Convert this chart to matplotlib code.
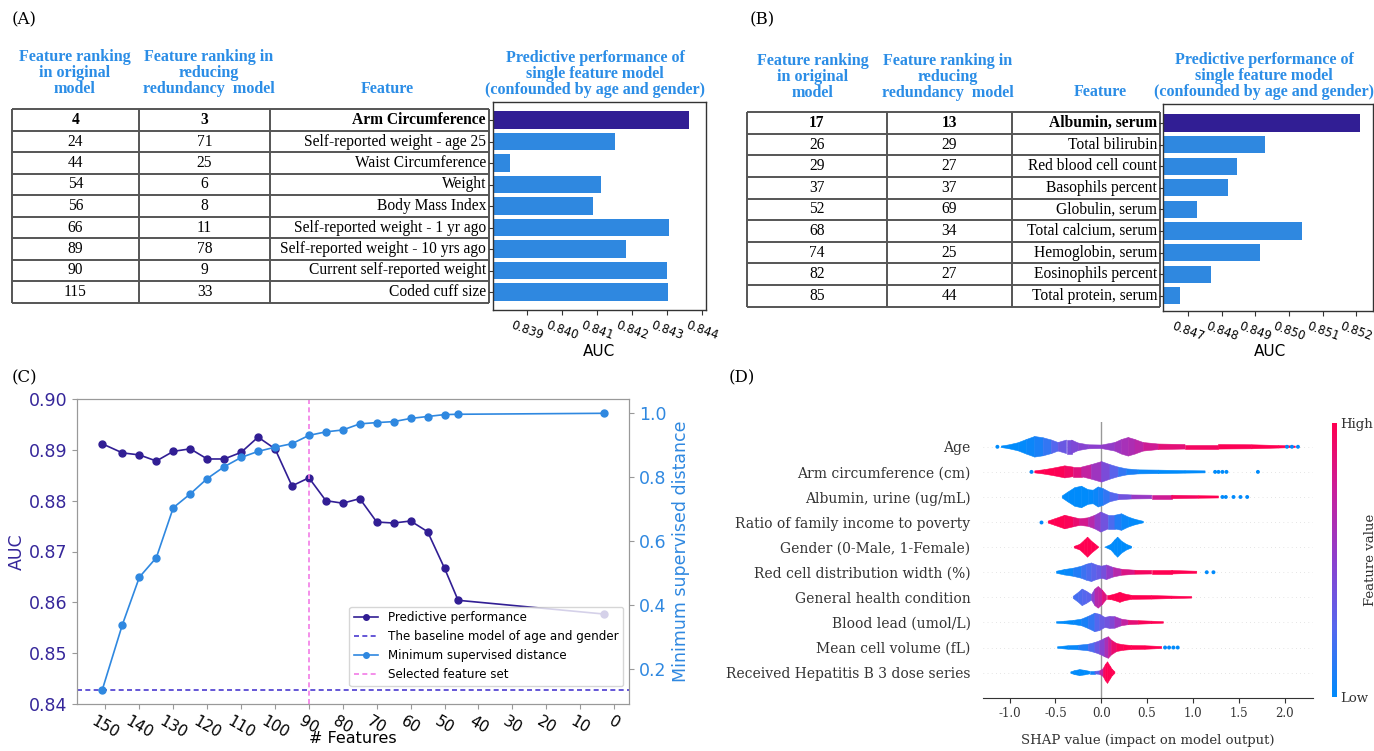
import matplotlib
matplotlib.use('Agg')
import matplotlib.pyplot as plt
import numpy as np
from matplotlib.colors import LinearSegmentedColormap
from matplotlib.patches import Polygon
from matplotlib.cm import ScalarMappable
from matplotlib.colors import Normalize

# ---------------- data ----------------
# Panel A
headers_A = [['Feature ranking', 'in original', 'model'],
             ['Feature ranking in', 'reducing', 'redundancy  model'],
             ['Feature'],
             ['Predictive performance of', 'single feature model', '(confounded by age and gender)']]
rank_orig_A = [4, 24, 44, 54, 56, 66, 89, 90, 115]
rank_red_A = [3, 71, 25, 6, 8, 11, 78, 9, 33]
features_A = ['Arm Circumference', 'Self-reported weight - age 25', 'Waist Circumference',
              'Weight', 'Body Mass Index', 'Self-reported weight - 1 yr ago',
              'Self-reported weight - 10 yrs ago', 'Current self-reported weight', 'Coded cuff size']
auc_A = [0.84362, 0.84151, 0.83852, 0.84110, 0.84087, 0.84304, 0.84181, 0.84298, 0.84302]
ticks_A = [0.839, 0.840, 0.841, 0.842, 0.843, 0.844]

# Panel B
headers_B = headers_A
rank_orig_B = [17, 26, 29, 37, 52, 68, 74, 82, 85]
rank_red_B = [13, 29, 27, 37, 69, 34, 25, 27, 44]
features_B = ['Albumin, serum', 'Total bilirubin', 'Red blood cell count', 'Basophils percent',
              'Globulin, serum', 'Total calcium, serum', 'Hemoglobin, serum',
              'Eosinophils percent', 'Total protein, serum']
auc_B = [0.85209, 0.84930, 0.84845, 0.84818, 0.84727, 0.85039, 0.84914, 0.84769, 0.84676]
ticks_B = [0.847, 0.848, 0.849, 0.850, 0.851, 0.852]

# Panel C
n_feat = [151, 145, 140, 135, 130, 125, 120, 115, 110, 105, 100, 95, 90, 85, 80, 75,
          70, 65, 60, 55, 50, 46, 3]
auc_perf = [0.8912, 0.8894, 0.8890, 0.8878, 0.8897, 0.8902, 0.8882, 0.8882, 0.8895, 0.8925,
            0.8902, 0.8829, 0.8845, 0.8800, 0.8795, 0.8804, 0.8758, 0.8756, 0.8760, 0.8739,
            0.8667, 0.8604, 0.8577]
min_dist = [0.134, 0.340, 0.488, 0.549, 0.705, 0.748, 0.796, 0.833, 0.862, 0.881,
            0.894, 0.905, 0.931, 0.942, 0.948, 0.967, 0.971, 0.974, 0.984, 0.990,
            0.996, 0.997, 1.000]
baseline_auc = 0.8427
selected_n = 90
xticks_C = list(range(0, 151, 10))
yticks_C = [0.84, 0.85, 0.86, 0.87, 0.88, 0.89, 0.90]
yticks_C2 = [0.2, 0.4, 0.6, 0.8, 1.0]

shap_features = ['Age', 'Arm circumference (cm)', 'Albumin, urine (ug/mL)',
                 'Ratio of family income to poverty', 'Gender (0-Male, 1-Female)',
                 'Red cell distribution width (%)', 'General health condition',
                 'Blood lead (umol/L)', 'Mean cell volume (fL)',
                 'Received Hepatitis B 3 dose series']
shap_x = [
    [-1.09, -1.016, -0.907, -0.816, -0.725, -0.634, -0.543, -0.470, -0.379, -0.324, -0.251, -0.142,
     0.004, 0.149, 0.222, 0.295, 0.368, 0.459, 0.623, 0.914, 1.279, 1.643, 1.935, 2.117],
    [-0.725, -0.616, -0.506, -0.397, -0.306, -0.215, -0.106, 0.004, 0.095, 0.186, 0.277, 0.404,
     0.623, 0.914, 1.133],
    [-0.426, -0.361, -0.288, -0.215, -0.142, -0.087, -0.033, 0.022, 0.095, 0.186, 0.332, 0.55,
     0.769, 1.06, 1.279],
    [-0.579, -0.506, -0.397, -0.306, -0.233, -0.142, -0.069, -0.004, 0.077, 0.149, 0.222, 0.295,
     0.368, 0.459],
    [-0.295, -0.233, -0.179, -0.149, -0.106, -0.062, -0.026, 0.040, 0.106, 0.149, 0.179, 0.222,
     0.277, 0.332],
    [-0.488, -0.397, -0.306, -0.215, -0.160, -0.106, -0.051, 0.004, 0.058, 0.131, 0.222, 0.368,
     0.550, 0.769, 1.042],
    [-0.306, -0.251, -0.208, -0.160, -0.106, -0.069, -0.033, 0.011, 0.058, 0.095, 0.149, 0.204,
     0.259, 0.332, 0.550, 0.769, 0.987],
    [-0.488, -0.397, -0.306, -0.215, -0.142, -0.069, -0.015, 0.040, 0.095, 0.149, 0.222, 0.295,
     0.404, 0.550, 0.678],
    [-0.477, -0.361, -0.251, -0.142, -0.069, -0.015, 0.040, 0.077, 0.113, 0.168, 0.240, 0.332,
     0.477, 0.659],
    [-0.332, -0.288, -0.233, -0.179, -0.124, -0.069, -0.015, 0.022, 0.047, 0.069, 0.095, 0.120,
     0.149],
]
shap_w = [
    [0.03, 0.07, 0.16, 0.29, 0.41, 0.36, 0.27, 0.17, 0.27, 0.27, 0.15, 0.08, 0.07, 0.17, 0.29,
     0.37, 0.29, 0.17, 0.11, 0.09, 0.09, 0.08, 0.05, 0.03],
    [0.04, 0.09, 0.16, 0.24, 0.19, 0.19, 0.29, 0.41, 0.29, 0.19, 0.12, 0.08, 0.07, 0.05, 0.04],
    [0.04, 0.20, 0.37, 0.43, 0.29, 0.27, 0.40, 0.33, 0.19, 0.11, 0.08, 0.07, 0.07, 0.05, 0.04],
    [0.04, 0.13, 0.27, 0.19, 0.13, 0.17, 0.27, 0.40, 0.27, 0.27, 0.33, 0.20, 0.11, 0.03],
    [0.03, 0.11, 0.29, 0.40, 0.24, 0.11, 0.0, 0.0, 0.11, 0.29, 0.40, 0.24, 0.11, 0.03],
    [0.04, 0.11, 0.16, 0.24, 0.32, 0.37, 0.29, 0.24, 0.29, 0.19, 0.12, 0.08, 0.07, 0.07, 0.04],
    [0.04, 0.19, 0.33, 0.24, 0.11, 0.33, 0.43, 0.29, 0.08, 0.08, 0.13, 0.20, 0.13, 0.08, 0.07,
     0.05, 0.03],
    [0.03, 0.05, 0.08, 0.13, 0.24, 0.37, 0.32, 0.20, 0.24, 0.23, 0.13, 0.09, 0.07, 0.05, 0.03],
    [0.03, 0.07, 0.09, 0.13, 0.20, 0.27, 0.37, 0.43, 0.29, 0.16, 0.11, 0.08, 0.07, 0.04],
    [0.03, 0.08, 0.12, 0.09, 0.05, 0.05, 0.07, 0.16, 0.33, 0.43, 0.27, 0.13, 0.03],
]
shap_c = [
    [0, 0, 0, 0.02, 0.05, 0.1, 0.2, 0.3, 0.38, 0.42, 0.45, 0.5, 0.5, 0.55, 0.6, 0.62, 0.66, 0.72,
     0.82, 0.92, 0.97, 1, 1, 1],
    [1, 1, 1, 0.97, 0.9, 0.8, 0.65, 0.5, 0.35, 0.2, 0.1, 0.05, 0, 0, 0],
    [0, 0, 0, 0, 0, 0.02, 0.05, 0.1, 0.2, 0.3, 0.45, 0.65, 0.9, 1, 1],
    [1, 1, 1, 0.95, 0.85, 0.75, 0.6, 0.45, 0.3, 0.15, 0.05, 0.02, 0, 0],
    [1, 1, 1, 1, 1, 1, 1, 0, 0, 0, 0, 0, 0, 0],
    [0, 0, 0.05, 0.15, 0.2, 0.25, 0.3, 0.35, 0.45, 0.6, 0.75, 0.9, 1, 1, 1],
    [0.2, 0.2, 0.25, 0.25, 0.3, 0.65, 0.7, 0.75, 0.95, 1, 1, 1, 1, 1, 1, 1, 1],
    [0, 0, 0, 0.05, 0.1, 0.2, 0.3, 0.35, 0.4, 0.5, 0.65, 0.8, 0.95, 1, 1],
    [0, 0, 0.05, 0.15, 0.3, 0.4, 0.55, 0.7, 0.85, 0.95, 1, 1, 1, 1],
    [0, 0, 0, 0, 0, 0.1, 0.5, 0.9, 1, 1, 1, 1, 1],
]
shap_out_x = [[-1.133, 2.026, 2.08, 2.146], [-0.761, 1.242, 1.279, 1.322, 1.366, 1.709],
              [1.322, 1.359, 1.443, 1.519, 1.592], [-0.652], [], [1.151, 1.224], [], [],
              [0.696, 0.740, 0.787, 0.834], []]
shap_out_c = [[0, 1, 1, 1], [1, 0, 0, 0, 0, 0], [1, 1, 1, 1, 1], [1], [], [1, 1], [], [],
              [1, 1, 1, 1], []]
shap_ticks = [-1.0, -0.5, 0.0, 0.5, 1.0, 1.5, 2.0]

# ---------------- style ----------------
W, H = 1374, 751
PURPLE = '#311e94'
BLUE = '#2f88e0'
HBLUE = '#2b8de6'
TABLE_FONT = 'Liberation Serif'
cmap = LinearSegmentedColormap.from_list(
    'shap_rb', ['#008bfb', '#5567ee', '#8c3fce', '#c81f9c', '#ff0051'])

fig = plt.figure(figsize=(W / 100, H / 100), dpi=100)


def fbox(l, t, r, b):
    return [l / W, 1 - b / H, (r - l) / W, (b - t) / H]


over = fig.add_axes([0, 0, 1, 1], zorder=-5)
over.set_xlim(0, W)
over.set_ylim(H, 0)
over.axis('off')

for lab, x, y in [('(A)', 12, 20), ('(B)', 750, 20), ('(C)', 12, 378), ('(D)', 729, 378)]:
    over.text(x, y, lab, fontsize=12, family='DejaVu Serif', ha='left', va='center')


def draw_panel(headers, hx, hys, r1, r2, feats, aucs, ticks, left, c1, c2, right, row0, rowh,
               axl, axt, axr, axb, xlim, auc_x):
    for hdr, x, ys in zip(headers, hx, hys):
        for line, y in zip(hdr, ys):
            over.text(x, y, line, fontsize=11.6, family=TABLE_FONT, weight='bold', color=HBLUE,
                      ha='center', va='center')
    n = len(feats)
    top = row0 - rowh / 2
    bot = row0 + (n - 0.5) * rowh
    lc = '#555555'
    for k in range(n + 1):
        y = top + k * rowh
        over.plot([left, right], [y, y], color=lc, lw=1.4, solid_capstyle='butt')
    for x in [left, c1, c2, right]:
        over.plot([x, x], [top, bot], color=lc, lw=1.4, solid_capstyle='butt')
    for i in range(n):
        y = row0 + i * rowh
        wt = 'bold' if i == 0 else 'normal'
        over.text((left + c1) / 2, y, str(r1[i]), fontsize=11.2, family=TABLE_FONT, weight=wt,
                  ha='center', va='center')
        over.text((c1 + c2) / 2, y, str(r2[i]), fontsize=11.2, family=TABLE_FONT, weight=wt,
                  ha='center', va='center')
        over.text(right - 3, y, feats[i], fontsize=11.2, family=TABLE_FONT, weight=wt,
                  ha='right', va='center')
    ax = fig.add_axes(fbox(axl, axt, axr, axb))
    ys = np.arange(n)
    cols = [PURPLE] + [BLUE] * (n - 1)
    ax.barh(ys, aucs, height=0.8, color=cols)
    ax.set_xlim(*xlim)
    ax.set_ylim((axb - row0) / rowh, (axt - row0) / rowh)
    ax.set_yticks(ys)
    ax.set_yticklabels([])
    ax.tick_params(axis='y', length=3, color='#333333')
    ax.set_xticks(ticks)
    ax.set_xticklabels(['%.3f' % t for t in ticks], rotation=-20, fontsize=8.5)
    ax.tick_params(axis='x', length=3.5, color='#333333', pad=3)
    for s in ax.spines.values():
        s.set_color('#333333')
        s.set_linewidth(1.0)
    over.text(auc_x, 351, 'AUC', fontsize=11, ha='center', va='center')
    return ax


draw_panel(headers_A, [75, 209, 387, 595], [[57, 73, 89], [57, 73, 89], [89], [58, 74, 90]],
           rank_orig_A, rank_red_A, features_A, auc_A, ticks_A,
           12, 139, 270, 489, 120, 21.5, 493, 102, 706, 310, (0.83803, 0.8441), 599)
draw_panel(headers_B, [813, 948, 1100, 1264], [[61, 77, 93], [61, 77, 93], [92], [60, 76, 92]],
           rank_orig_B, rank_red_B, features_B, auc_B, ticks_B,
           747, 887, 1012, 1160, 123, 21.6, 1163, 104, 1373, 311, (0.84626, 0.85249), 1270)

# ---------------- Panel C ----------------
axc = fig.add_axes(fbox(77, 399, 629, 704))
l1, = axc.plot(n_feat, auc_perf, '-o', color=PURPLE, ms=5, lw=1.2, label='Predictive performance')
l2 = axc.axhline(baseline_auc, color='#4a3ad0', ls=(0, (3, 2)), lw=1.2,
                 label='The baseline model of age and gender')
l4 = axc.axvline(selected_n, color='#f27ce6', ls=(0, (3, 2)), lw=1.2, label='Selected feature set')
axc.set_xlim(158.4, -4.4)
axc.set_ylim(0.84, 0.90)
axc.set_xticks(xticks_C)
axc.set_xticklabels([str(t) for t in xticks_C], rotation=-30, fontsize=11)
axc.set_yticks(yticks_C)
axc.set_yticklabels(['%.2f' % t for t in yticks_C], fontsize=12.5, color='#35269a')
axc.set_ylabel('AUC', fontsize=12.5, color='#35269a', labelpad=2)
axc.set_xlabel('# Features', fontsize=11.5, va='top')
axc.xaxis.set_label_coords(0.5, -(731 - 704) / 305)
ax2 = axc.twinx()
l3, = ax2.plot(n_feat, min_dist, '-o', color=BLUE, ms=5, lw=1.2, label='Minimum supervised distance')
ax2.set_ylim(0.0916, 1.0447)
ax2.set_yticks(yticks_C2)
ax2.set_yticklabels(['%.1f' % t for t in yticks_C2], fontsize=12.5, color=BLUE)
ax2.set_ylabel('Minimum supervised distance', fontsize=12.5, color=BLUE, labelpad=4)
for a in (axc, ax2):
    for s in a.spines.values():
        s.set_color('#999999')
    a.tick_params(color='#999999')
ax2.legend([l1, l2, l3, l4], [h.get_label() for h in (l1, l2, l3, l4)], loc='lower right',
           bbox_to_anchor=(0.989, 0.059), borderaxespad=0, fontsize=8.6, framealpha=0.8,
           markerscale=0.8)

# ---------------- Panel D ----------------
axd = fig.add_axes(fbox(983, 421.7, 1313, 697.7))
N = len(shap_features)
axd.set_xlim(-1.29, 2.31)
axd.set_ylim(-1, N)
axd.axvline(0, color='#999999', lw=1, zorder=-1)
for i in range(N):
    yc = N - 1 - i
    axd.axhline(yc, color='#cccccc', lw=0.5, dashes=(1, 5), zorder=-2)
    xs, ws, cs = shap_x[i], shap_w[i], shap_c[i]
    for k in range(len(xs) - 1):
        if ws[k] == 0 and ws[k + 1] == 0:
            continue
        col = cmap((cs[k] + cs[k + 1]) / 2)
        poly = [(xs[k], yc - ws[k]), (xs[k + 1], yc - ws[k + 1]),
                (xs[k + 1], yc + ws[k + 1]), (xs[k], yc + ws[k])]
        axd.add_patch(Polygon(poly, closed=True, facecolor=col, edgecolor=col, lw=0.4, zorder=2))
    if shap_out_x[i]:
        axd.scatter(shap_out_x[i], [yc] * len(shap_out_x[i]),
                    c=[cmap(c) for c in shap_out_c[i]], s=8, lw=0, zorder=3)
axd.set_yticks(range(N))
axd.set_yticklabels(shap_features[::-1], family='DejaVu Serif', fontsize=10, color='#333333')
axd.tick_params(axis='y', length=0, pad=9)
axd.set_xticks(shap_ticks)
axd.set_xticklabels(['%.1f' % t for t in shap_ticks], family='DejaVu Serif', fontsize=8.5,
                    color='#333333')
axd.tick_params(axis='x', color='#333333', labelcolor='#333333')
for s in ['left', 'right', 'top']:
    axd.spines[s].set_visible(False)
axd.spines['bottom'].set_color('#333333')
axd.set_xlabel('SHAP value (impact on model output)', family='DejaVu Serif', fontsize=9.5,
               color='#333333', labelpad=10)

cax = fig.add_axes(fbox(1332, 423, 1337, 697))
cb = fig.colorbar(ScalarMappable(norm=Normalize(0, 1), cmap=cmap), cax=cax, ticks=[0, 1])
cb.outline.set_visible(False)
cax.set_yticklabels(['Low', 'High'], family='DejaVu Serif', fontsize=9.5, color='#333333')
cax.tick_params(length=0, pad=2)
over.text(1370, 560, 'Feature value', rotation=90, family='DejaVu Serif', fontsize=9.5,
          color='#333333', ha='center', va='center')

fig.savefig('out.png', dpi=100)
